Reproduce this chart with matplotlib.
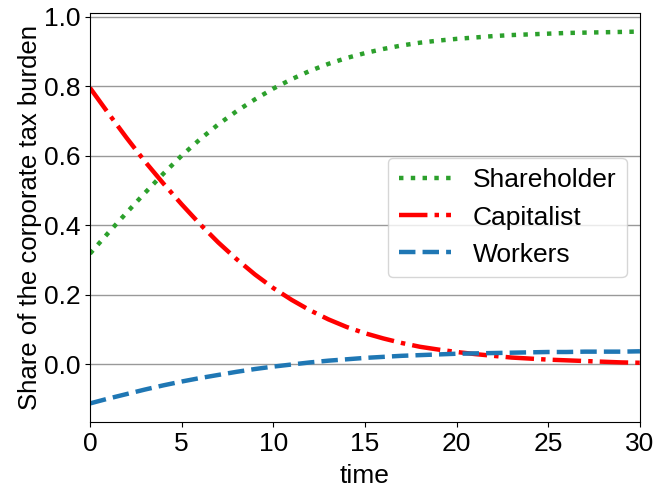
import matplotlib.pyplot as plt

plt.rcParams['font.family'] = ['Liberation Sans', 'DejaVu Sans']

time = list(range(31))

shareholder = [0.318, 0.378, 0.436, 0.493, 0.548, 0.600, 0.647, 0.690, 0.728, 0.762,
               0.793, 0.820, 0.844, 0.864, 0.881, 0.895, 0.907, 0.917, 0.925, 0.931,
               0.936, 0.940, 0.944, 0.947, 0.949, 0.951, 0.953, 0.954, 0.955, 0.956,
               0.957]
capitalist = [0.795, 0.722, 0.651, 0.583, 0.520, 0.460, 0.403, 0.350, 0.302, 0.258,
              0.219, 0.185, 0.155, 0.129, 0.107, 0.089, 0.074, 0.061, 0.050, 0.042,
              0.035, 0.029, 0.024, 0.019, 0.016, 0.013, 0.011, 0.009, 0.007, 0.005,
              0.004]
workers = [-0.113, -0.099, -0.086, -0.073, -0.061, -0.050, -0.040, -0.031, -0.022, -0.014,
           -0.007, -0.001, 0.005, 0.010, 0.014, 0.018, 0.021, 0.024, 0.026, 0.028,
           0.030, 0.031, 0.032, 0.033, 0.034, 0.035, 0.035, 0.036, 0.036, 0.036,
           0.037]

fig = plt.figure(figsize=(6.55, 4.88), dpi=100)
ax = fig.add_axes([0.1374, 0.1352, 0.8396, 0.8382])

ax.plot(time, shareholder, ':', color='#2ca02c', lw=3.2, label='Shareholder')
ax.plot(time, capitalist, '-.', color='red', lw=3.2, label='Capitalist')
ax.plot(time, workers, '--', color='#1f77b4', lw=3.2, label='Workers')

ax.set_xlim(0, 30)
ax.set_xticks([0, 5, 10, 15, 20, 25, 30])
ax.set_yticks([0.0, 0.2, 0.4, 0.6, 0.8, 1.0])
ax.yaxis.grid(True, color='#999999', lw=1)
ax.set_axisbelow(True)

ax.tick_params(labelsize=19)
ax.set_xlabel('time', fontsize=19, labelpad=6)
ax.set_ylabel('Share of the corporate tax burden', fontsize=18.5, labelpad=1)
ax.legend(loc='center right', fontsize=19)

plt.savefig('out.png')
